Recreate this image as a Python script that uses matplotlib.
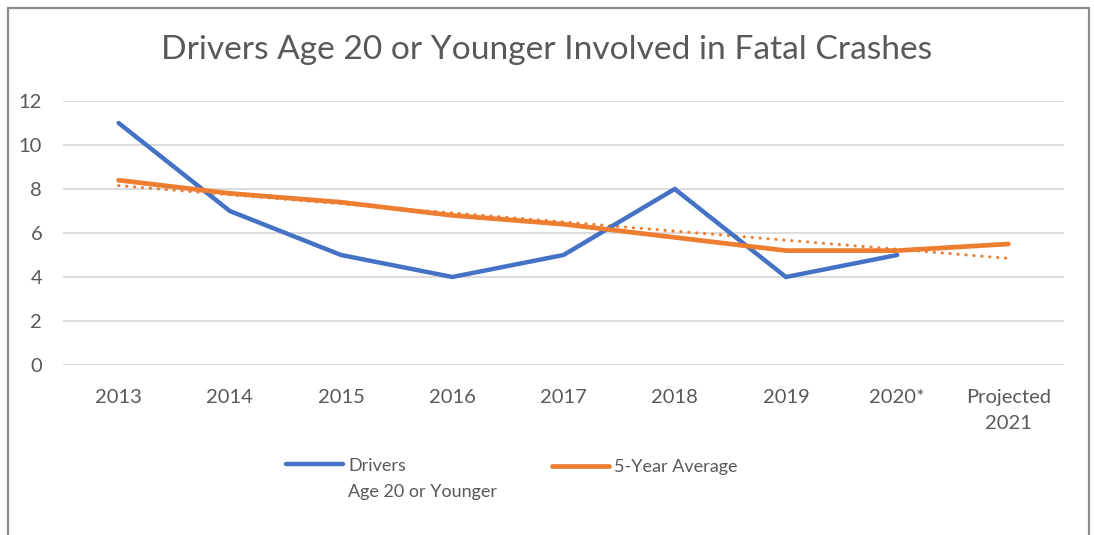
import numpy as np
import matplotlib
matplotlib.use("Agg")
import matplotlib.pyplot as plt
from matplotlib.legend_handler import HandlerLine2D
from matplotlib.patches import Rectangle

categories = ["2013", "2014", "2015", "2016", "2017", "2018", "2019", "2020*", "Projected\n2021"]
drivers = [11, 7, 5, 4, 5, 8, 4, 5]
five_year_avg = [8.4, 7.8, 7.4, 6.8, 6.4, 5.8, 5.2, 5.2, 5.5]
y_ticks = [0, 2, 4, 6, 8, 10, 12]

title = "Drivers Age 20 or Younger Involved in Fatal Crashes"
label_drivers = "Drivers\nAge 20 or Younger"
label_avg = "5-Year Average"

BLUE = "#4472C4"
ORANGE = "#ED7D31"
TEXT = "#595959"
GRID = "#D9D9D9"
FS = 14.5
LFS = 13

plt.rcParams['font.family'] = ['Lato', 'DejaVu Sans']

fig = plt.figure(figsize=(10.94, 5.35), dpi=100)
ax = fig.add_axes([63/1094, 1-365/535, (1064-63)/1094, (365-101)/535])

x_all = np.arange(len(categories))
x_drv = np.arange(len(drivers))

# linear trendline of 5-year average
coef = np.polyfit(x_all, five_year_avg, 1)
trend = np.polyval(coef, x_all)

ax.plot(x_all, trend, color=ORANGE, lw=2.2, linestyle=(0, (0.1, 2.5)),
        dash_capstyle='round', zorder=2)
l1, = ax.plot(x_drv, drivers, color=BLUE, lw=3.2, solid_capstyle='round',
              solid_joinstyle='miter', zorder=3, label=label_drivers)
l2, = ax.plot(x_all, five_year_avg, color=ORANGE, lw=3.4, solid_capstyle='round',
              solid_joinstyle='round', zorder=4, label=label_avg)

ax.set_xlim(-0.5, len(categories) - 0.5)
ax.set_ylim(0, 12)
ax.set_yticks(y_ticks)
ax.set_xticks(x_all)
ax.set_xticklabels(categories)
ax.yaxis.grid(True, color=GRID, lw=1.3)
ax.set_axisbelow(True)
for s in ax.spines.values():
    s.set_visible(False)
ax.tick_params(axis='both', length=0, colors=TEXT, labelsize=FS)
ax.tick_params(axis='y', pad=15)
ax.tick_params(axis='x', pad=17)
for t in ax.get_yticklabels() + ax.get_xticklabels():
    t.set_color(TEXT)
    t.set_linespacing(1.65)

fig.text(0.5, 1 - 50/535, title, ha='center', va='center', fontsize=24.1,
         color=TEXT)


class HandlerTop(HandlerLine2D):
    def __init__(self, shift, **kw):
        super().__init__(**kw)
        self.shift = shift

    def create_artists(self, legend, orig_handle, xdescent, ydescent, width,
                       height, fontsize, trans):
        arts = super().create_artists(legend, orig_handle, xdescent, ydescent,
                                      width, height, fontsize, trans)
        for a in arts:
            a.set_ydata(np.asarray(a.get_ydata()) + self.shift)
        return arts


common = dict(loc='upper left', frameon=False, fontsize=LFS, handlelength=3.15,
              handletextpad=0.3, borderaxespad=0, borderpad=0)
leg1 = fig.legend(handles=[l1], bbox_to_anchor=(286/1094, 1 - 458/535),
                  handler_map={l1: HandlerTop(11.0)}, **common)
leg2 = fig.legend(handles=[l2], bbox_to_anchor=(552/1094, 1 - 459/535), **common)
for lg in (leg1, leg2):
    for t in lg.get_texts():
        t.set_color(TEXT)
        t.set_linespacing(1.75)

fig.patches.append(Rectangle((8/1094, -0.1), (1089-8)/1094, 1.1 - 8/535,
                             transform=fig.transFigure, fill=False,
                             edgecolor="#8C8C8C", lw=1.6, zorder=10))

fig.savefig("out.png", dpi=100)
